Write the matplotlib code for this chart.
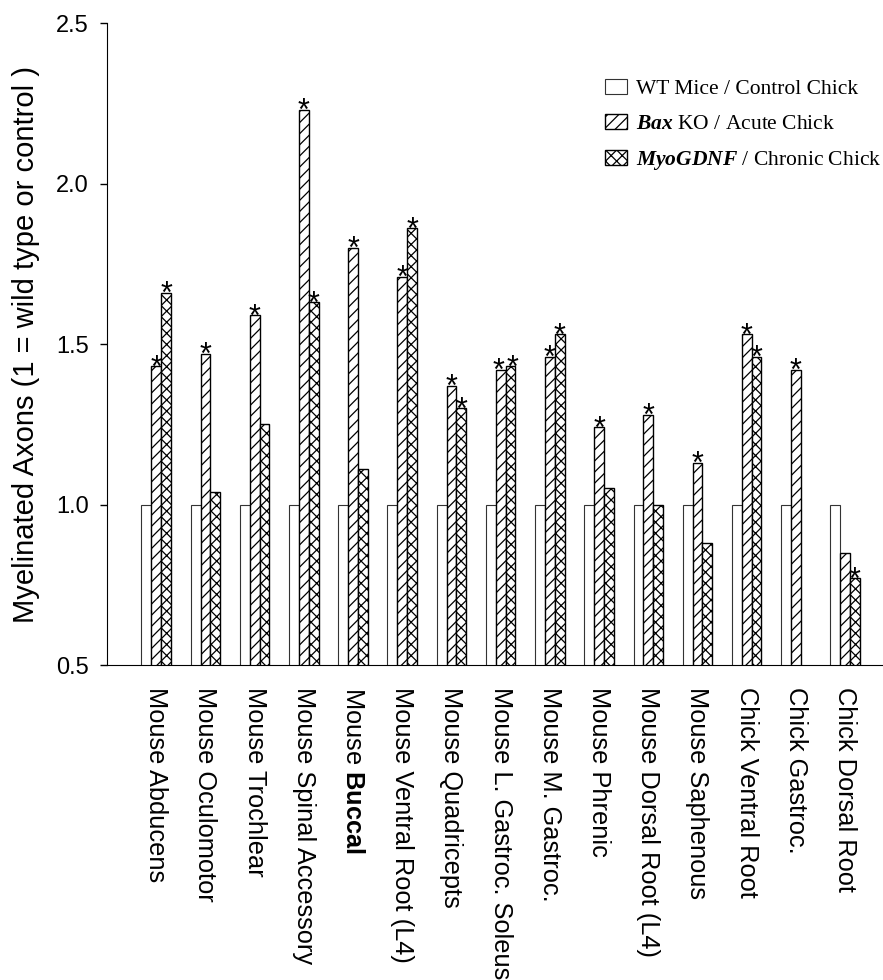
import matplotlib
matplotlib.use('Agg')
import matplotlib.pyplot as plt
import numpy as np

plt.rcParams['font.family'] = ['Liberation Sans', 'DejaVu Sans']
plt.rcParams['mathtext.fontset'] = 'custom'
plt.rcParams['mathtext.bf'] = 'Liberation Sans:bold'
plt.rcParams['mathtext.bfit'] = 'Liberation Serif:italic:bold'
plt.rcParams['hatch.linewidth'] = 0.9

# nerves (x categories)
nerves = ['Mouse Abducens', 'Mouse Oculomotor', 'Mouse Trochlear',
          'Mouse Spinal Accessory', 'Mouse $\\mathbf{Buccal}$',
          'Mouse Ventral Root (L4)', 'Mouse Quadricepts',
          'Mouse L. Gastroc. Soleus', 'Mouse M. Gastroc.', 'Mouse Phrenic',
          'Mouse Dorsal Root (L4)', 'Mouse Saphenous', 'Chick Ventral Root',
          'Chick Gastroc.', 'Chick Dorsal Root']

# values relative to wild type / control
wt = [1.0] * 15
bax = [1.43, 1.47, 1.59, 2.23, 1.80, 1.71, 1.37, 1.42, 1.46, 1.24, 1.28, 1.13, 1.53, 1.42, 0.85]
myo = [1.66, 1.04, 1.25, 1.63, 1.11, 1.86, 1.30, 1.43, 1.53, 1.05, 1.00, 0.88, 1.46, np.nan, 0.77]

# significance marks
bax_star = [1, 1, 1, 1, 1, 1, 1, 1, 1, 1, 1, 1, 1, 1, 0]
myo_star = [1, 0, 0, 1, 0, 1, 1, 1, 1, 0, 0, 0, 1, 0, 1]

labels = ['WT Mice / Control Chick',
          '$\\mathbfit{Bax}$ KO / Acute Chick',
          '$\\mathbfit{MyoGDNF}$ / Chronic Chick']

fig = plt.figure(figsize=(8.83, 9.8), dpi=100)
ax = fig.add_axes([0.1212, 0.3214, 0.8788, 0.6551])

x = np.arange(len(nerves))
w = 0.2
ax.bar(x - w, wt, w, color='white', edgecolor='#333333', linewidth=0.8, label=labels[0])
ax.bar(x, bax, w, color='white', edgecolor='black', linewidth=1.0, hatch='///', label=labels[1])
ax.bar(x + w, myo, w, color='white', edgecolor='black', linewidth=1.0, hatch='xxx', label=labels[2])

# stars above significant bars
for i in range(len(nerves)):
    # two stars at almost the same height sit side by side: push them apart a little
    dx = 0
    if bax_star[i] and myo_star[i] and abs(bax[i] - myo[i]) < 0.05:
        dx = 1.3
    if bax_star[i]:
        ax.annotate('*', (x[i], bax[i]), xytext=(-dx, -7.5), textcoords='offset points',
                    ha='center', va='baseline', fontsize=22)
    if myo_star[i]:
        ax.annotate('*', (x[i] + w, myo[i]), xytext=(dx, -7.5), textcoords='offset points',
                    ha='center', va='baseline', fontsize=22)

ax.set_xlim(-1.0, 14.77)
ax.set_ylim(0.5, 2.5)
ax.set_yticks([0.5, 1.0, 1.5, 2.0, 2.5])
ax.set_yticklabels(['0.5', '1.0', '1.5', '2.0', '2.5'])
ax.set_xticks(x)
ax.set_xticklabels(nerves, rotation=270, ha='center', va='top')
ax.tick_params(axis='x', length=0, pad=16, labelsize=18.3)
ax.tick_params(axis='y', length=5, width=1, pad=8, labelsize=17)
ax.spines['top'].set_visible(False)
ax.spines['right'].set_visible(False)
ax.set_ylabel('Myelinated Axons (1 = wild type or control )', fontsize=21, labelpad=12)

ax.legend(loc='upper left', bbox_to_anchor=(0.685, 0.919), bbox_transform=fig.transFigure,
          frameon=False, borderpad=0, borderaxespad=0, handlelength=1.05, handleheight=0.65,
          handletextpad=0.4, labelspacing=0.7,
          prop={'family': 'Liberation Serif', 'size': 15.5})

fig.savefig('out.png', dpi=100)
